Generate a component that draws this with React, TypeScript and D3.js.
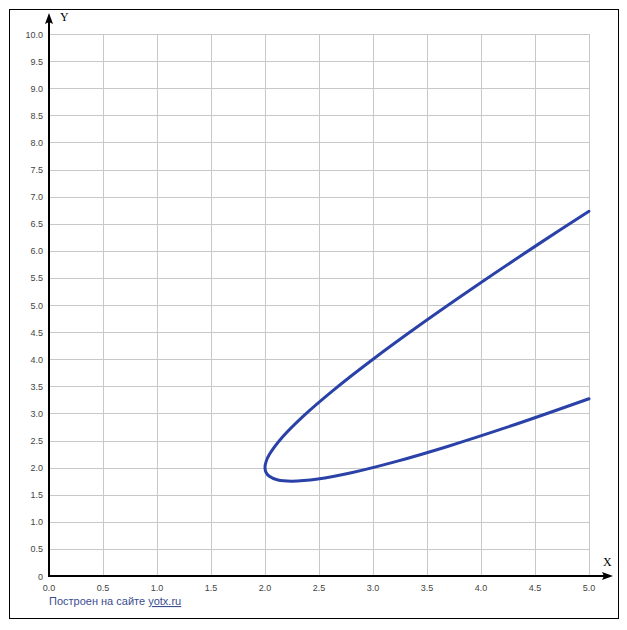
import React, { useEffect, useRef } from 'react';
import * as d3 from 'd3';

// points, from the upper end round the vertex to the lower end
const curveX = [5.0, 4.56, 3.96, 3.44, 3.0, 2.64, 2.36, 2.16, 2.04, 2.01, 2.0, 2.01, 2.04, 2.12, 2.25, 2.49, 2.81, 3.21, 3.69, 4.25, 5.0];
const curveY = [6.73, 6.16, 5.36, 4.64, 4.0, 3.44, 2.96, 2.56, 2.24, 2.11, 2.0, 1.91, 1.84, 1.77, 1.75, 1.79, 1.91, 2.11, 2.39, 2.75, 3.27];

const xTicks = ['0.0', '0.5', '1.0', '1.5', '2.0', '2.5', '3.0', '3.5', '4.0', '4.5', '5.0'];
const yTicks = ['0', '0.5', '1.0', '1.5', '2.0', '2.5', '3.0', '3.5', '4.0', '4.5', '5.0', '5.5', '6.0', '6.5', '7.0', '7.5', '8.0', '8.5', '9.0', '9.5', '10.0'];

const App: React.FC = () => {
  const svgRef = useRef<SVGSVGElement>(null);
  const width = 627;
  const height = 630;

  useEffect(() => {
    if (!svgRef.current) return;
    d3.select(svgRef.current).selectAll('*').remove();
    const svg = d3.select(svgRef.current);

    const left = 49, right = 589, top = 34, bottom = 576;
    const x = d3.scaleLinear().domain([0, 5]).range([left, right]);
    const y = d3.scaleLinear().domain([0, 10]).range([bottom, top]);

    svg.append('rect')
      .attr('width', width).attr('height', height).attr('fill', '#fff');

    // frame
    svg.append('rect')
      .attr('x', 9.5).attr('y', 9.5).attr('width', 609).attr('height', 609)
      .attr('fill', 'none').attr('stroke', '#000').attr('stroke-width', 1);

    // grid
    const grid = svg.append('g').attr('stroke', '#c8c8c8').attr('stroke-width', 1);
    xTicks.forEach(t => {
      const v = +t;
      if (v === 0) return;
      const px = Math.round(x(v)) + 0.5;
      grid.append('line').attr('x1', px).attr('x2', px).attr('y1', top).attr('y2', bottom);
    });
    yTicks.forEach(t => {
      const v = +t;
      if (v === 0) return;
      const py = Math.round(y(v)) + 0.5;
      grid.append('line').attr('x1', left).attr('x2', right).attr('y1', py).attr('y2', py);
    });

    // tick labels
    const font = '"Liberation Sans", Arial, sans-serif';
    svg.append('g').selectAll('text').data(xTicks).enter().append('text')
      .attr('x', d => x(+d))
      .attr('y', 591)
      .attr('text-anchor', 'middle')
      .attr('font-family', font).attr('font-size', 9).attr('fill', '#444')
      .text(d => d);
    svg.append('g').selectAll('text').data(yTicks).enter().append('text')
      .attr('x', 43)
      .attr('y', d => y(+d) + 3.5)
      .attr('text-anchor', 'end')
      .attr('font-family', font).attr('font-size', 9).attr('fill', '#444')
      .text(d => d);

    // axes with arrows
    svg.append('line')
      .attr('x1', left).attr('x2', 605).attr('y1', bottom).attr('y2', bottom)
      .attr('stroke', '#000').attr('stroke-width', 2);
    svg.append('path')
      .attr('d', `M613,${bottom} L602,${bottom - 4} L604,${bottom} L602,${bottom + 4} Z`)
      .attr('fill', '#000');
    svg.append('line')
      .attr('x1', left).attr('x2', left).attr('y1', bottom + 1).attr('y2', 20)
      .attr('stroke', '#000').attr('stroke-width', 2);
    svg.append('path')
      .attr('d', `M${left},13 L${left - 4},24 L${left},22 L${left + 4},24 Z`)
      .attr('fill', '#000');

    svg.append('text')
      .attr('x', 60).attr('y', 21)
      .attr('font-family', '"Liberation Serif", "Times New Roman", serif')
      .attr('font-size', 12).attr('fill', '#000')
      .text('Y');
    svg.append('text')
      .attr('x', 603).attr('y', 566)
      .attr('font-family', '"Liberation Serif", "Times New Roman", serif')
      .attr('font-size', 12).attr('fill', '#000')
      .text('X');

    // curve
    const pts: [number, number][] = curveX.map((v, i) => [v, curveY[i]]);
    const line = d3.line<[number, number]>()
      .x(d => x(d[0]))
      .y(d => y(d[1]))
      .curve(d3.curveCatmullRom.alpha(0.5));
    svg.append('path')
      .datum(pts)
      .attr('d', line)
      .attr('fill', 'none')
      .attr('stroke', '#2a42a8')
      .attr('stroke-width', 3)
      .attr('stroke-linejoin', 'round')
      .attr('stroke-linecap', 'round');

    // footer
    const foot = svg.append('text')
      .attr('x', 49).attr('y', 605)
      .attr('font-family', font).attr('font-size', 11).attr('fill', '#3b4d8f');
    foot.append('tspan').text('Построен на сайте ');
    foot.append('tspan').attr('text-decoration', 'underline').text('yotx.ru');
  }, []);

  return (
    <svg
      ref={svgRef}
      width={width}
      height={height}
      style={{ position: 'absolute', left: 0, top: 0 }}
    />
  );
};

export default App;
